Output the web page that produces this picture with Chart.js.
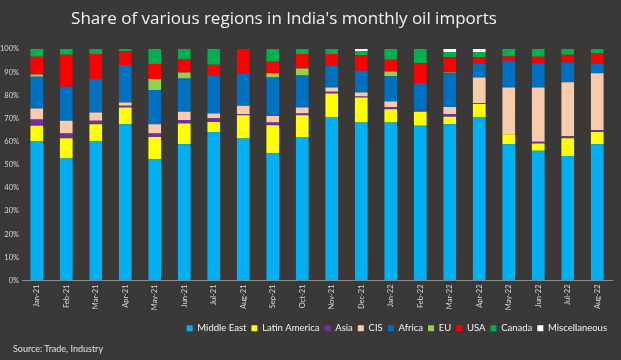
<!DOCTYPE html>
<html><head><meta charset="utf-8">
<script src="https://cdn.jsdelivr.net/npm/chart.js@4.4.1/dist/chart.umd.min.js"></script>
<style>
html,body{margin:0;padding:0;background:#3b3838;}
#wrap{position:relative;width:621px;height:360px;background:#3b3838;overflow:hidden;}
#title{position:absolute;left:0;top:6px;width:568px;text-align:center;font-family:"Open Sans",sans-serif;font-size:17px;color:#f2f2f2;white-space:nowrap;}
#source{position:absolute;left:13px;top:343px;font-family:Lato,"Open Sans",sans-serif;font-size:9px;color:#e0e0e0;}
canvas{position:absolute;left:0;top:0;}
</style></head>
<body><div id="wrap">
<canvas id="c" width="621" height="360"></canvas>
<div id="title">Share of various regions in India's monthly oil imports</div>
<div id="source">Source: Trade, Industry</div>
</div>
<script>
const months = ['Jan-21','Feb-21','Mar-21','Apr-21','May-21','Jun-21','Jul-21','Aug-21','Sep-21','Oct-21','Nov-21','Dec-21','Jan-22','Feb-22','Mar-22','Apr-22','May-22','Jun-22','Jul-22','Aug-22'];
const middleEast   = [60.3,52.7,60.3,67.5,52.4,58.9,64.2,61.3,55.0,61.8,70.4,68.3,68.3,66.8,67.5,70.4,58.9,56.0,53.8,58.9];
const latinAmerica = [6.5,8.8,7.2,7.2,9.6,8.9,4.3,10.1,12.1,9.6,10.4,10.8,5.7,6.1,3.2,5.8,4.3,3.2,7.7,5.3];
const asia         = [2.8,2.0,1.5,0.8,1.5,1.5,1.6,0.4,1.2,0.7,0.7,0.4,1.0,0.4,1.2,0.4,0,0.7,0.8,0.7];
const cis          = [4.7,5.5,3.6,1.4,4.0,3.6,2.0,3.7,2.8,2.6,1.9,1.7,2.3,0,3.1,11.1,20.2,23.5,23.3,24.6];
const africa       = [13.7,14.7,14.4,16.2,14.8,14.4,16.4,14.0,16.6,13.8,9.4,9.4,10.9,12.0,14.5,5.8,11.5,10.4,8.6,4.3];
const eu           = [1.0,0,0,0,4.7,2.6,0,0,1.8,3.1,0,0,2.1,0,0.4,0,0,0,0,0];
const usa          = [7.7,13.8,10.8,5.9,6.5,5.8,4.7,10.5,5.0,6.2,5.0,6.8,5.1,8.6,6.5,2.9,1.9,2.9,3.3,4.3];
const canada       = [3.3,2.5,2.2,1.0,6.5,4.3,6.8,0,5.5,2.2,2.2,1.7,4.6,6.1,2.2,2.2,3.2,3.3,2.5,1.9];
const misc         = [0,0,0,0,0,0,0,0,0,0,0,0.9,0,0,1.4,1.4,0,0,0,0];
const yTicks = [0,10,20,30,40,50,60,70,80,90,100];

const series = [
  ['Middle East', middleEast, '#00b0f0'],
  ['Latin America', latinAmerica, '#ffff00'],
  ['Asia', asia, '#7030a0'],
  ['CIS', cis, '#f8cbad'],
  ['Africa', africa, '#0070c0'],
  ['EU', eu, '#92d050'],
  ['USA', usa, '#ff0000'],
  ['Canada', canada, '#00b050'],
  ['Miscellaneous', misc, '#ffffff']
];

new Chart(document.getElementById('c'), {
  type: 'bar',
  data: {
    labels: months,
    datasets: series.map(s => ({
      label: s[0], data: s[1], backgroundColor: s[2], borderWidth: 0,
      barPercentage: 0.43, categoryPercentage: 1.0
    }))
  },
  options: {
    responsive: false,
    animation: false,
    layout: { padding: { top: 49, left: 0, right: 9, bottom: 17 } },
    plugins: {
      title: { display: false },
      tooltip: { enabled: false },
      legend: {
        position: 'bottom',
        align: 'end',
        labels: {
          color: '#f2f2f2',
          boxWidth: 6, boxHeight: 6,
          padding: 5,
          font: { family: 'Lato, "Open Sans", sans-serif', size: 9.5 }
        }
      }
    },
    scales: {
      x: {
        stacked: true,
        grid: { display: false, drawTicks: false },
        border: { display: true, color: '#8c8c8c', width: 1 },
        ticks: {
          color: '#d9d9d9', maxRotation: 90, minRotation: 90, padding: 4, autoSkip: false,
          font: { family: 'Lato, "Open Sans", sans-serif', size: 7.5 }
        },
        afterFit: s => { s.height = 38; }
      },
      y: {
        stacked: true, min: 0, max: 100,
        grid: { display: false, drawTicks: false },
        border: { display: false },
        afterBuildTicks: s => { s.ticks = yTicks.map(v => ({ value: v })); },
        ticks: {
          color: '#d9d9d9', padding: 3,
          font: { family: 'Lato, "Open Sans", sans-serif', size: 7.5 },
          callback: v => v + '%'
        },
        afterFit: s => { s.width = 22; }
      }
    }
  }
});
</script>
</body></html>
